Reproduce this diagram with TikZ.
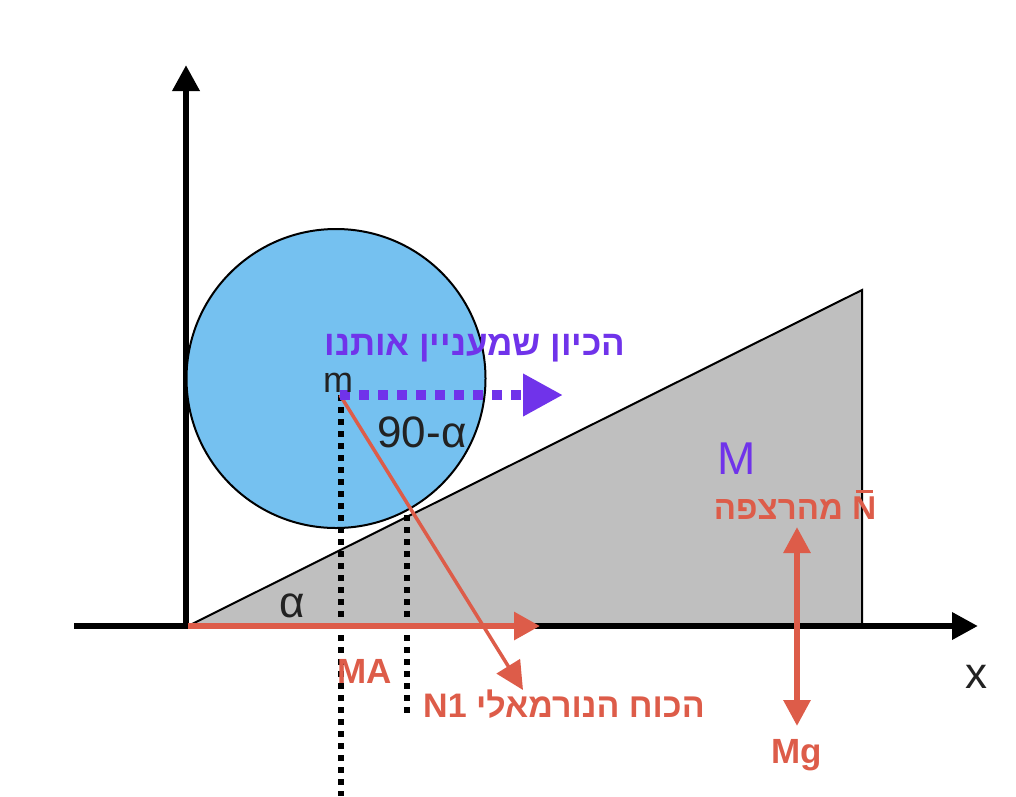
\documentclass[tikz,border=0pt]{standalone}
\usepackage{fontspec}
\setmainfont{Liberation Sans}
\newfontfamily\hebfont[Script=Hebrew]{Liberation Sans}
\TeXXeTstate=1
\usetikzlibrary{arrows.meta}
\definecolor{redc}{HTML}{DD5C49}
\definecolor{purp}{HTML}{7033EA}
\definecolor{skyc}{HTML}{75C1F0}
\definecolor{wedgec}{HTML}{BFBFBF}
\definecolor{ink}{HTML}{222222}
\newcommand{\barN}{\makebox[0pt][l]{\hspace{0.1em}\raisebox{0.8em}{\rule{0.52em}{0.09em}}}N}
\begin{document}
\begin{tikzpicture}[x=1pt,y=-1pt,
  axisline/.style={line width=6.5pt, -{Triangle[length=26pt,width=26pt]}},
  blackdots/.style={line width=6pt, dash pattern=on 6pt off 6pt},
  redforce/.style={redc, line width=6pt, -{Triangle[length=26pt,width=27pt]}},
  reddouble/.style={redc, line width=6pt, {Triangle[length=26pt,width=26pt]}-{Triangle[length=26pt,width=26pt]}},
  reddiag/.style={redc, line width=3.5pt, -{Triangle[length=28pt,width=27pt]}},
  purpdots/.style={purp, line width=10pt, dash pattern=on 10pt off 9pt, -{Triangle[length=40pt,width=40pt]}},
  plain/.style={inner sep=0pt, anchor=base, text=ink},
  redlbl/.style={inner sep=0pt, anchor=base, text=redc, font=\fontsize{35}{40}\selectfont\bfseries},
]
\useasboundingbox (0,0) rectangle (1016,796);

% wedge (block M)
\coordinate (wA) at (188,626);
\coordinate (wB) at (862,290);
\coordinate (wC) at (862,626);
\draw[fill=wedgec, line width=2pt] (wA) -- (wB) -- (wC) -- cycle;

% axes
\coordinate (origin) at (186,626);
\coordinate (ytip) at (186,65);
\coordinate (xstart) at (74,626);
\coordinate (xtip) at (978,626);
\draw[axisline] (origin) -- (ytip);
\draw[axisline] (xstart) -- (xtip);

% ball
\node[circle, draw=black, line width=2pt, fill=skyc, minimum size=299pt, inner sep=0pt] (ball) at (336,378.5) {};

% centre of ball
\coordinate (mc) at (340,395);
\coordinate (mbottom) at (341,796);
\coordinate (tan) at (407,515);
\coordinate (tanbottom) at (407,716);
\draw[blackdots] (341,395) -- (mbottom);
\draw[blackdots] (tan) -- (tanbottom);

% MA arrow along x
\coordinate (maend) at (540,626);
\draw[redforce] (wA) -- (maend);

% normal force N1
\coordinate (ntip) at (523,690);
\draw[reddiag] (mc) -- (ntip);

% direction of interest
\coordinate (dirtip) at (563,395);
\draw[purpdots] (mc) -- (dirtip);

% floor normal and Mg
\coordinate (ftop) at (797,527);
\coordinate (fbot) at (797,726);
\draw[reddouble] (fbot) -- (ftop);

% labels
\node[inner sep=0pt, anchor=base, text=purp, font=\fontsize{35}{40}\selectfont\bfseries\hebfont] (dirlbl) at (475,355) {\beginR הכיון שמעניין אותנו\endR};
\node[plain, font=\fontsize{36}{40}\selectfont] (mlbl) at (338,392) {m};
\node[plain, font=\fontsize{44}{50}\selectfont] (anglbl) at (422,447) {90-α};
\node[plain, font=\fontsize{44}{50}\selectfont] (alphalbl) at (292,617) {α};
\node[plain, font=\fontsize{44}{50}\selectfont] (xlbl) at (976,688) {x};
\node[inner sep=0pt, anchor=base, text=purp, font=\fontsize{46}{50}\selectfont] (Mlbl) at (737,474) {M};
\node[redlbl, font=\fontsize{33}{38}\selectfont\bfseries\hebfont] (flbl) at (795,519) {\beginR מהרצפה\endR\ \barN};
\node[redlbl] (malbl) at (365,683) {MA};
\node[redlbl, font=\fontsize{34}{38}\selectfont\bfseries\hebfont] (nlbl) at (564,717) {N1 \beginR הכוח הנורמאלי\endR};
\node[redlbl] (mglbl) at (797,763) {Mg};
\end{tikzpicture}
\end{document}
